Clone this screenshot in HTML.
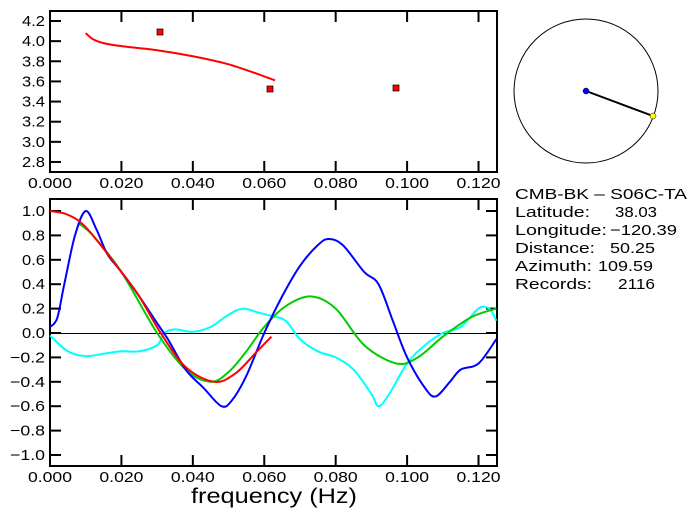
<!DOCTYPE html>
<html><head><style>body{margin:0;background:#fff}svg{display:block}text{font-family:"Liberation Sans",sans-serif;fill:#000}</style></head>
<body>
<svg id="s" width="697" height="519" xmlns="http://www.w3.org/2000/svg">
<rect x="50" y="11" width="447" height="161" fill="none" stroke="#000" stroke-width="2"/>
<rect x="50" y="199" width="447" height="267" fill="none" stroke="#000" stroke-width="2"/>
<line x1="50" y1="333.5" x2="497" y2="333.5" stroke="#000" stroke-width="1"/>
<g id="g"></g>
<circle cx="586" cy="91" r="72" fill="none" stroke="#000" stroke-width="1"/>
<line x1="586" y1="91" x2="653" y2="116" stroke="#000" stroke-width="2"/>
<circle cx="586" cy="91" r="3" fill="#00f" stroke="#000" stroke-width="0.5"/>
<circle cx="653" cy="116" r="3" fill="#ff0" stroke="#000" stroke-width="0.5"/>
<g font-size="15">
<text x="515" y="199" textLength="172" lengthAdjust="spacingAndGlyphs">CMB-BK  –  S06C-TA</text>
<text x="515" y="217" textLength="75" lengthAdjust="spacingAndGlyphs">Latitude:</text><text x="615" y="217" textLength="42" lengthAdjust="spacingAndGlyphs">38.03</text>
<text x="515" y="235" textLength="92" lengthAdjust="spacingAndGlyphs">Longitude:</text><text x="610" y="235" textLength="67" lengthAdjust="spacingAndGlyphs">−120.39</text>
<text x="515" y="253" textLength="80" lengthAdjust="spacingAndGlyphs">Distance:</text><text x="610" y="253" textLength="45" lengthAdjust="spacingAndGlyphs">50.25</text>
<text x="515" y="271" textLength="77" lengthAdjust="spacingAndGlyphs">Azimuth:</text><text x="598" y="271" textLength="55" lengthAdjust="spacingAndGlyphs">109.59</text>
<text x="515" y="289" textLength="77" lengthAdjust="spacingAndGlyphs">Records:</text><text x="618" y="289" textLength="37" lengthAdjust="spacingAndGlyphs">2116</text>
</g>
<text x="191" y="503" font-size="21" textLength="166" lengthAdjust="spacingAndGlyphs">frequency (Hz)</text>
</svg>
<script>
const g=document.getElementById('g');let h='';
const X=f=>50+f*3571;
const labs=['0.000','0.020','0.040','0.060','0.080','0.100','0.120'];
const TL='font-size="15" lengthAdjust="spacingAndGlyphs"';
for(let i=0;i<7;i++){const x=X(i*0.02);
 h+=`<text x="${x-22}" y="188" ${TL} textLength="44">${labs[i]}</text><text x="${x-22}" y="482" ${TL} textLength="44">${labs[i]}</text>`;
 if(i>0){h+=`<line x1="${x}" y1="11" x2="${x}" y2="22" stroke="#000" stroke-width="2"/><line x1="${x}" y1="172" x2="${x}" y2="161" stroke="#000" stroke-width="2"/><line x1="${x}" y1="199" x2="${x}" y2="210" stroke="#000" stroke-width="2"/><line x1="${x}" y1="466" x2="${x}" y2="455" stroke="#000" stroke-width="2"/>`;}}
const YT=v=>21+(4.2-v)*100.7;
for(let i=0;i<8;i++){const v=2.8+i*0.2,y=YT(v);
 h+=`<text x="22" y="${y+5}" ${TL} textLength="23">${v.toFixed(1)}</text><line x1="50" y1="${y}" x2="61" y2="${y}" stroke="#000" stroke-width="2"/>`;}
const YB=v=>333-v*122;
for(let i=0;i<11;i++){const v=1-i*0.2,y=YB(v);const neg=v<-1e-9;const t=(Math.abs(v)<1e-9?'0.0':(neg?'−':'')+Math.abs(v).toFixed(1));
 h+=`<text x="${neg?10:22}" y="${y+5}" ${TL} textLength="${neg?35:23}">${t}</text><line x1="50" y1="${y}" x2="61" y2="${y}" stroke="#000" stroke-width="2"/><line x1="497" y1="${y}" x2="486" y2="${y}" stroke="#000" stroke-width="2"/>`;}
function path(pts,Y,c){const p=pts.map(a=>[X(a[0]),Y(a[1])]);let d=`M${p[0][0]},${p[0][1]}`;
 for(let i=0;i<p.length-1;i++){const p0=p[Math.max(0,i-1)],p1=p[i],p2=p[i+1],p3=p[Math.min(p.length-1,i+2)];
 d+=`C${p1[0]+(p2[0]-p0[0])/6},${p1[1]+(p2[1]-p0[1])/6} ${p2[0]-(p3[0]-p1[0])/6},${p2[1]-(p3[1]-p1[1])/6} ${p2[0]},${p2[1]}`;}
 return `<path d="${d}" fill="none" stroke="${c}" stroke-width="2"/>`;}
h+=path([[0.010,4.08],[0.012,4.02],[0.015,3.98],[0.020,3.95],[0.030,3.91],[0.040,3.85],[0.050,3.77],[0.060,3.65],[0.063,3.61]],YT,'#f00');
[[160,32],[270,89],[396,88]].forEach(q=>h+=`<rect x="${q[0]-3}" y="${q[1]-3}" width="6" height="6" fill="#f00" stroke="#000" stroke-width="0.7"/>`);
h+=path([[0,-0.02],[0.005,-0.15],[0.010,-0.19],[0.015,-0.17],[0.020,-0.15],[0.025,-0.15],[0.030,-0.1],[0.032,0.0],[0.035,0.03],[0.040,0.01],[0.045,0.05],[0.050,0.15],[0.054,0.2],[0.058,0.17],[0.062,0.14],[0.066,0.1],[0.070,-0.05],[0.075,-0.15],[0.080,-0.2],[0.085,-0.3],[0.090,-0.5],[0.092,-0.6],[0.095,-0.5],[0.100,-0.25],[0.105,-0.1],[0.110,0.0],[0.115,0.05],[0.120,0.2],[0.123,0.2],[0.125,0.1]],YB,'#0ff');
h+=path([[0.008,0.9],[0.012,0.8],[0.020,0.5],[0.030,0.0],[0.038,-0.3],[0.045,-0.4],[0.050,-0.32],[0.055,-0.15],[0.060,0.05],[0.066,0.22],[0.073,0.3],[0.080,0.2],[0.088,-0.1],[0.097,-0.25],[0.103,-0.2],[0.110,-0.03],[0.118,0.13],[0.125,0.2]],YB,'#0c0');
h+=path([[0,0.05],[0.002,0.12],[0.004,0.4],[0.007,0.8],[0.010,1.0],[0.013,0.85],[0.016,0.65],[0.020,0.5],[0.025,0.3],[0.030,0.08],[0.033,-0.05],[0.038,-0.3],[0.043,-0.45],[0.048,-0.6],[0.051,-0.55],[0.055,-0.35],[0.060,0.0],[0.065,0.3],[0.070,0.55],[0.075,0.72],[0.078,0.77],[0.082,0.72],[0.088,0.5],[0.092,0.4],[0.096,0.1],[0.100,-0.2],[0.105,-0.45],[0.108,-0.52],[0.112,-0.4],[0.115,-0.3],[0.120,-0.25],[0.125,-0.05]],YB,'#00f');
h+=path([[0,1.0],[0.004,0.98],[0.008,0.92],[0.012,0.8],[0.020,0.5],[0.025,0.3],[0.031,0.0],[0.038,-0.28],[0.046,-0.4],[0.052,-0.33],[0.058,-0.15],[0.062,-0.03]],YB,'#f00');
g.innerHTML=h;
</script>
</body></html>
